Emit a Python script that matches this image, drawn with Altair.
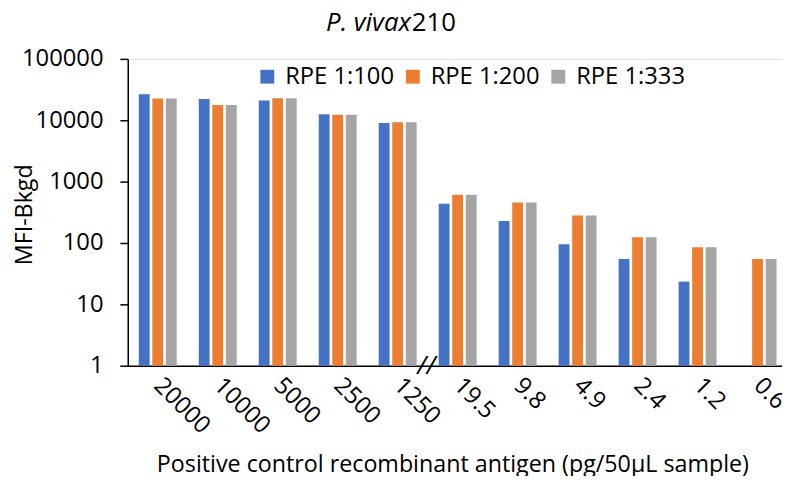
import altair as alt
import pandas as pd

categories = ["20000", "10000", "5000", "2500", "1250", "19.5", "9.8", "4.9", "2.4", "1.2", "0.6"]
series_names = ["RPE 1:100", "RPE 1:200", "RPE 1:333"]
rpe_100 = [26500, 22100, 21000, 12500, 9040, 437, 229, 95, 54.6, 23.5, None]
rpe_200 = [22600, 17700, 22900, 12300, 9290, 609, 458, 280, 124, 85, 55]
rpe_333 = [22600, 17700, 22900, 12300, 9290, 609, 458, 280, 124, 85, 55]
colors = ["#4472C4", "#ED7D31", "#A5A5A5"]
y_ticks = [1, 10, 100, 1000, 10000, 100000]

rows = []
for name, vals in zip(series_names, [rpe_100, rpe_200, rpe_333]):
    for c, v in zip(categories, vals):
        if v is not None:
            rows.append({"cat": c, "series": name, "value": v})
df = pd.DataFrame(rows)

FONT = "Open Sans"
FS = 24
STEP = 60.6
W = 661

xscale = alt.Scale(domain=categories, range=[0, STEP * len(categories)],
                   paddingInner=0.368, paddingOuter=0.184)
yscale = alt.Scale(type="log", domain=[1, 100000])

bars = alt.Chart(df).mark_bar().encode(
    x=alt.X("cat:N", scale=xscale, sort=categories,
            axis=alt.Axis(title="Positive control recombinant antigen (pg/50µL sample)",
                          labelAngle=45, labelAlign="left", labelBaseline="middle",
                          labelPadding=16, ticks=False, domainColor="black", domainWidth=1.5,
                          labelFontSize=FS, labelFont=FONT, labelColor="black",
                          titleFont=FONT, titleFontSize=23.5, titleFontWeight="normal",
                          titleColor="black", titleX=328, titleY=107,
                          titleBaseline="alphabetic", titleAnchor="middle")),
    xOffset=alt.XOffset("series:N", sort=series_names,
                        scale=alt.Scale(paddingInner=0.2, paddingOuter=0)),
    y=alt.Y("value:Q", scale=yscale,
            axis=alt.Axis(title="MFI-Bkgd", values=y_ticks, format="d", grid=False,
                          tickSize=8, tickColor="black", tickWidth=1.5,
                          domainColor="black", domainWidth=1.5,
                          labelFontSize=FS, labelFont=FONT, labelColor="black",
                          labelPadding=17,
                          titleFont=FONT, titleFontSize=23.5, titleFontWeight="normal",
                          titleColor="black", titleX=-104, titleY=157, titleAngle=-90,
                          titleBaseline="middle", titleAnchor="middle")),
    y2=alt.datum(1),
    color=alt.Color("series:N", sort=series_names,
                    scale=alt.Scale(domain=series_names, range=colors),
                    legend=alt.Legend(title=None, orient="none", legendX=129, legendY=6,
                                      direction="horizontal", symbolType="square",
                                      symbolSize=196, symbolStrokeWidth=0,
                                      labelFont=FONT, labelFontSize=FS, labelColor="black",
                                      labelOffset=6, columnPadding=6)),
)

brk = alt.Chart(pd.DataFrame({"cat": ["1250"], "v": [1], "t": ["//"]})).mark_text(
    font=FONT, fontSize=26, fontStyle="italic", dx=29, baseline="middle", align="center",
    color="black"
).encode(
    x=alt.X("cat:N", scale=xscale, sort=categories),
    y=alt.Y("v:Q", scale=yscale),
    text="t:N",
)

title_df = pd.DataFrame({"a": ["P. vivax"], "b": ["210"]})
t1 = alt.Chart(title_df).mark_text(font=FONT, fontSize=26, fontStyle="italic",
                                   align="right", baseline="alphabetic", color="black").encode(
    x=alt.value(286), y=alt.value(-28), text="a:N")
t2 = alt.Chart(title_df).mark_text(font=FONT, fontSize=26,
                                   align="left", baseline="alphabetic", color="black").encode(
    x=alt.value(287), y=alt.value(-28), text="b:N")

chart = alt.layer(bars, brk, t1, t2).properties(
    width=W, height=310,
    autosize=alt.AutoSizeParams(type="none"),
    padding={"left": 121, "top": 49, "right": 0, "bottom": 109},
).configure_view(stroke=None).configure(background="white")

chart.save("out.html", embed_options={"renderer": "svg", "actions": False})
